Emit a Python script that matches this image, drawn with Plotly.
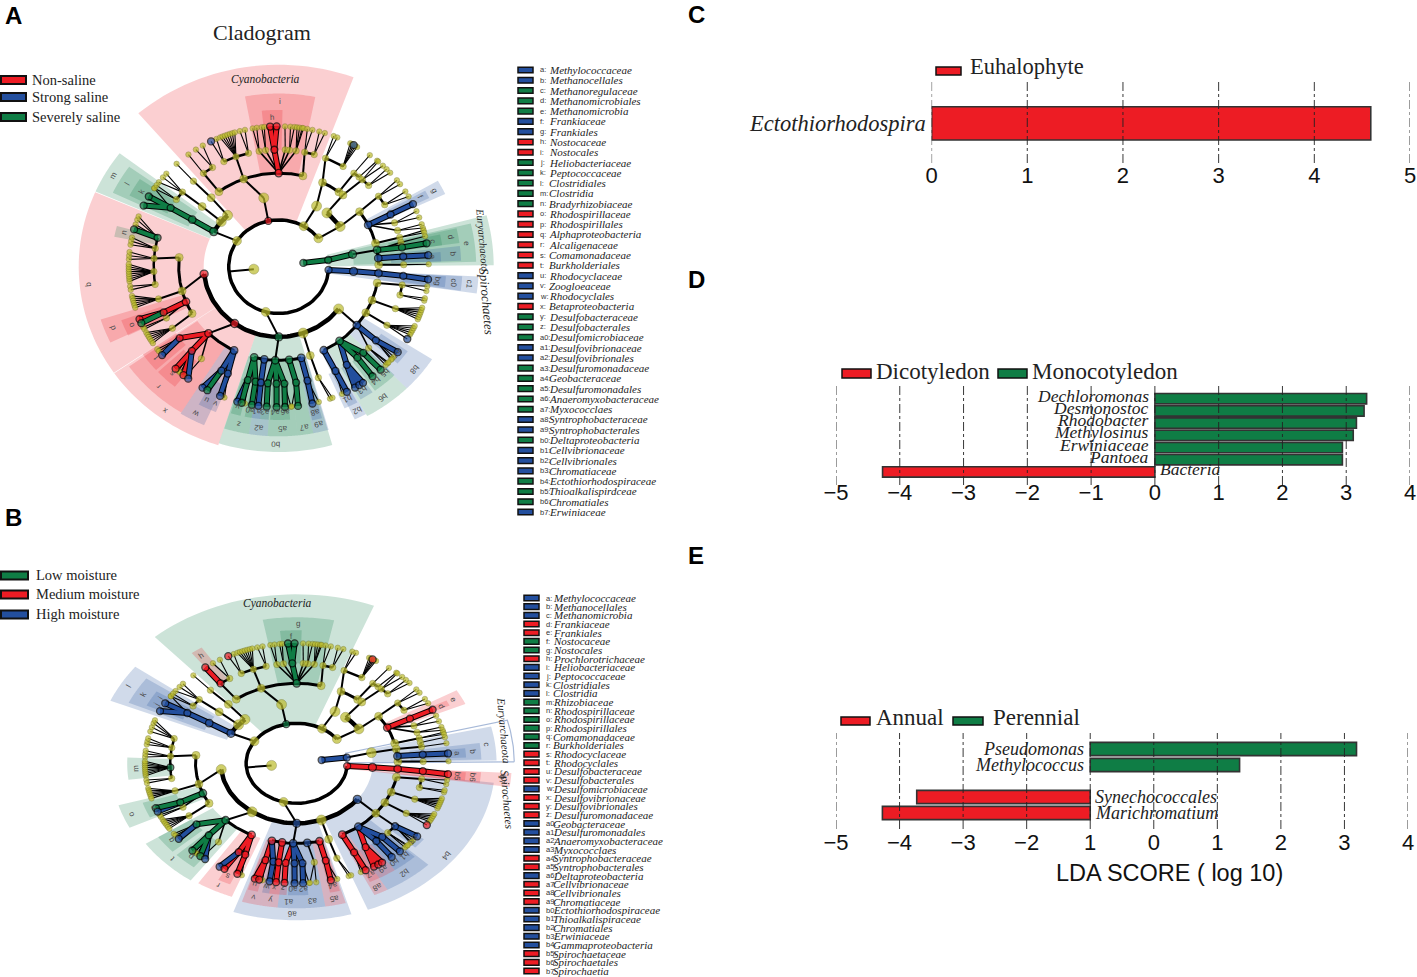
import numpy as np
import plotly.graph_objects as go

W, H = 1417, 977
RED, BLUE, GREEN, YEL = "#ed1c24", "#234f9e", "#0f7d45", "#bcbc2c"
COL = {"R": RED, "B": BLUE, "G": GREEN}
ALPHA = {"R": "rgba(237,28,36,0.21)", "B": "rgba(35,79,158,0.21)", "G": "rgba(15,125,69,0.21)"}
SERIF, SANS = "Liberation Serif", "Liberation Sans"

# ---------- bar panels ----------
C_TAXA = ["Ectothiorhodospira"]
C_SCORES = [4.59]
C_TICKS = [0, 1, 2, 3, 4, 5]
C_TICKTEXT = ["0", "1", "2", "3", "4", "5"]
D_TAXA = ["Dechloromonas", "Desmonostoc", "Rhodobacter", "Methylosinus", "Erwiniaceae", "Pantoea", "Bacteria"]
D_SCORES = [3.32, 3.28, 3.16, 3.11, 2.94, 2.94, -4.27]
D_TICKS = [-5, -4, -3, -2, -1, 0, 1, 2, 3, 4]
D_TICKTEXT = ["\u22125", "\u22124", "\u22123", "\u22122", "\u22121", "0", "1", "2", "3", "4"]
E_TAXA = ["Pseudomonas", "Methylococcus", " ", "Synechococcales", "Marichromatium"]
E_SCORES = [3.19, 1.35, None, -3.73, -4.27]
E_BASE = -1
E_TICKS = [-5, -4, -3, -2, -1, 0, 1, 2, 3, 4]
E_TICKTEXT = ["\u22125", "\u22124", "\u22123", "\u22122", "1", "0", "1", "2", "3", "4"]

# ---------- taxon keys ----------
A_KEYS = list("abcdefghijklmnopqrstuvwxyz") + [f"a{i}" for i in range(10)] + [f"b{i}" for i in range(8)]
A_NAMES = ["Methylococcaceae", "Methanocellales", "Methanoregulaceae", "Methanomicrobiales", "Methanomicrobia",
           "Frankiaceae", "Frankiales", "Nostocaceae", "Nostocales", "Heliobacteriaceae", "Peptococcaceae",
           "Clostridiales", "Clostridia", "Bradyrhizobiaceae", "Rhodospirillaceae", "Rhodospirillales",
           "Alphaproteobacteria", "Alcaligenaceae", "Comamonadaceae", "Burkholderiales", "Rhodocyclaceae",
           "Zoogloeaceae", "Rhodocyclales", "Betaproteobacteria", "Desulfobacteraceae", "Desulfobacterales",
           "Desulfomicrobiaceae", "Desulfovibrionaceae", "Desulfovibrionales", "Desulfuromonadaceae",
           "Geobacteraceae", "Desulfuromonadales", "Anaeromyxobacteraceae", "Myxococclaes",
           "Syntrophobacteraceae", "Syntrophobacterales", "Deltaproteobacteria", "Cellvibrionaceae",
           "Cellvibrionales", "Chromatiaceae", "Ectothiorhodospiraceae", "Thioalkalispirdceae", "Chromatiales",
           "Erwiniaceae"]
A_ROWCOL = "BBGGGBBRRGGGGGRRRRRRBBBRGGGBBGGGGGBBGBBBGGGB"
B_NAMES = ["Methylococcaceae", "Methanocellales", "Methanomicrobia", "Frankiaceae", "Frankiales", "Nostocaceae",
           "Nostocales", "Prochlorotrichaceae", "Heliobacteriaceae", "Peptococcaceae", "Clostridiales", "Clostridia",
           "Rhizobiaceae", "Rhodospirillaceae", "Rhodospirillaceae", "Rhodospirillales", "Comamonadaceae",
           "Burkholderiales", "Rhodocyclaceae", "Rhodocyclales", "Desulfobacteraceae", "Desulfobacterales",
           "Desulfomicrobiaceae", "Desulfovibrionaceae", "Desulfovibrionales", "Desulfuromonadaceae",
           "Geobacteraceae", "Desulfuromonadales", "Anaeromyxobacteraceae", "Myxococclaes",
           "Syntrophobacteraceae", "Syntrophobacterales", "Deltaproteobacteria", "Cellvibrionaceae",
           "Cellvibrionales", "Chromatiaceae", "Ectothiorhodospiraceae", "Thioalkalispiraceae", "Chromatiales",
           "Erwiniaceae", "Gammaproteobacteria", "Spirochaetaceae", "Spirochaetales", "Spirochaetia"]
B_ROWCOL = "BBBRRGGRBBBBGGGGGGRRRRBRRRBBBBRRBRRRBBBBBRRR"

# ---------- cladogram tree: (angle in degrees, tag, children); a bare number is an untagged leaf ----------
CYANO = (102, "cy", [(101.5, None, [
    (126.7, None, [(127, "cy5", [(127, "cy6")]), (122, None, [123.5, 120.4])]),
    (110.5, None, [(116, None, [(116.8, "cyb"), 114.5]),
                   (110, None, [113, 112, 111, 110, 109, 108, 107]),
                   (104, None, [105, 103])]),
    (90, "cy4", [(99, None, [100, 98.4]), (96, None, [96.5, 95.5]), (92, "i5", [(93.3, "h1"), (90.8, "h2")]),
                 (87, None, [87.6]), (85, None, [85.5, 84]), (82, None, [83, 82, 81, 80.5])]),
    (76, None, [(78, None, [79, 77]), (73.5, None, [74.3, 72.1])]),
])])
ACTI = (60, None, [(59.7, None, [
    (64, None, [(68, None, [68.5, 67]), (59, None, [(60, "act"), 61.5, 60.7, 59.3, 58.5])]),
    (53, None, [(53, None, [52.6]), (50, None, [49])]),
])])
OTHER = (37.4, None, [
    (50, None, [(50, None, [(48, None, [48.5, 46]), (44, None, [44, 42])])]),
    (35, None, [
        (36, None, [(37, None, [38, 36]), (32, None, [32.4, 30])]),
        (26.5, "f0", [(26.5, "f1", [(26.5, "f2")]), (22, None, [23.3, 20.5]), (18, None, [17.6, 16])]),
        (14.5, None, [(14.5, None, [15, 14])]),
    ]),
])
SPIRO = (356, "s2", [(356.2, "s3", [(356, "s4", [(355.5, "s5", [(354.8, "s6")])])])])
ALPHA_CLADE = (186, "a3", [
    (174.3, None, [
        (165.7, "n5", [(164.6, "n6"), 162.5, 160.5, 159]),
        (171, None, [171, 169.5, 168]),
        (176, None, [177, 175.5, 174]),
        (182.4, "m5", [186, 185, 184, 183, 182, 181, 180, 179]),
        (188.7, None, [188, 189.5]),
    ]),
    (195, None, [(196, None, [192, 193, 194, 195, 196, 197])]),
    (202, "o4", [(203, "o5", [(201.9, "o6"), (203.7, "o7")]), (206, None, [205.5, 206.5])]),
    (210, None, [(211.7, None, [208, 209, 210, 211, 212, 213])]),
])
BETA_CLADE = (234, "x3", [
    (225.4, "r4", [(217.6, "t5", [216, 217, (219, "t6")]),
                   (226, "r5", [(226.6, "r6"), (230.6, "r7"), (232.9, "r8"), 228, 229]),
                   (231.8, None, [231.5])]),
    (243.5, "w4", [(242.7, "w5", [(239.5, "u6"), (241.6, "v6")]), (246, "w7", [(247, "u7"), 248.8])]),
])
DELTA_CLADE = (270, "d3", [
    (255.8, "z4", [(255.7, "y5", [(254, "y6"), (255.7, "y7"), 257]), (259.3, "a05", [(259.7, "a06")])]),
    (261.7, "a14", [(261.8, "a15", [(262.2, "a16")])]),
    (268, "a34", [(265, "a35", [(265.4, "a36")]), (269, "a37", [(269.2, "a38")]),
                  (272.6, "a39", [(272.4, "a40"), 274.7])]),
    (276, "a74", [(278, "a75", [(277.4, "a76"), 275])]),
    (283, "a94", [(283.3, "a95", [(283, "a96"), 285.5])]),
])
E289_CLADE = (289, None, [(288.4, None, [(288.5, None, [290, 291])])])
GAMMA_CLADE = (323, "g3", [
    (296.8, "b24", [(297, "b25", [(297, "b16"), 295])]),
    (307.5, "b64", [(303, "b35", [(300.6, "b36"), (302.5, "b37"), (304.2, "b38")]),
                    (309, "b65", [(308.7, "b66")]),
                    (312.6, "b45", [(312.8, "b46")])]),
    (321.4, "b84", [(321, "b75", [(322.5, "b76"), 320, 319, 318.5]), (316, None, [316.5, 315.5, 317])]),
    (330.6, None, [(330, None, [(329, "lf"), 331, 332, 333, 334, 335])]),
    (339, None, [(339, None, [338, 339, 340, 341, 342, 343])]),
    (350, None, [(346, None, [346, 347]), (351, None, [350, 352])]),
])
PROTEO = (255, None, [ALPHA_CLADE, BETA_CLADE, DELTA_CLADE, E289_CLADE, GAMMA_CLADE])
FIRM = (146.6, None, [
    (150, "c3", [(149.8, "c4", [(149.8, "c5", [(150, "c6a"), (154.2, "c6b"), 146])])]),
    (140, None, [(140, None, [(140.4, None, [140.5, 143, 138.5]), (145, None, [146, 144.5])])]),
    (133, None, [(132.5, None, [(133, None, [132.9])])]),
])
BACTERIA = (186, None, [SPIRO, PROTEO, FIRM, CYANO, ACTI, OTHER])
EURY = (9.4, "e1", [(8.2, "e2", [(10.2, "e3", [
    (10.3, "e4", [(9.5, "e5", [(9.6, "e6")]), (12, None, [12.5])]),
    (5.2, "e7", [(5, "e8", [(4.7, "e9")])]),
    (1.2, None, [(1, None, [1])]),
])])])
ROOTS = [BACTERIA, EURY]

# biomarker tags per panel
A_TAGS = {
    "R": "cy cy4 i5 h1 h2 a3 o4 o5 o6 x3 r4 t5 r5 r6 r7",
    "B": "cyb act f0 f1 f2 e7 e8 e9 s2 s3 s4 s5 s6 w4 w5 u6 w7 u7 t6 r8 a14 a15 a16 a94 a95 a96 y6 "
         "b24 b25 b16 b35 b36 b37 b38 b84 b75 b76 lf",
    "G": "e1 e2 e3 e4 e5 e6 c3 c4 c5 c6a c6b n5 n6 o7 v6 d3 z4 y5 y7 a05 a06 a34 a35 a36 a37 a38 a39 a40 "
         "a74 a75 a76 b64 b65 b66 b45 b46",
}
B_TAGS = {
    "G": "cy cy4 i5 h1 h2 o4 o5 o6 m5 r4 t5 r5 r6 r7",
    "R": "cyb cy5 cy6 f0 f1 f2 s2 s3 s4 s5 s6 w4 w5 w7 u7 v6 act lf z4 y5 y6 y7 a14 a15 a16 a35 a36 a94 a95 a96 "
         "b24 b25 b16 b35 b36 b37 b38",
    "B": "e1 e2 e7 e8 e9 c3 c4 c5 c6a c6b o7 t6 r8 u6 d3 a05 a06 a34 a37 a38 a39 a40 a74 b64 b65 b66 b45 b46 "
         "g3 b75 b76",
}

# shaded sectors: label, colour, start angle, end angle, inner level, outer level
A_SECTORS = [
    ("", "R", 69.7, 130.6, 2, 8.63), ("i", "R", 78.6, 100.5, 4, 7.4), ("h", "R", 88.7, 95.8, 5, 6.7),
    ("m", "G", 142.7, 156.3, 3, 8), ("l", "G", 144.5, 154.5, 4, 7.35), ("k", "G", 146, 153, 5, 6.7),
    ("b", "R", 156.6, 214.5, 3, 8), ("d", "R", 197.6, 205.7, 4, 7.47), ("o", "R", 200, 206, 5, 6.7),
    ("n", "G", 165, 169, 5, 6.7),
    ("x", "R", 214.7, 252.4, 3, 8), ("r", "R", 215.5, 238, 4, 7.35), ("s", "R", 223, 231, 5.2, 6.6),
    ("t", "R", 214.5, 222, 5, 6.6), ("w", "B", 238, 246.2, 4, 7.4), ("u", "B", 241.5, 245, 5.5, 6.7),
    ("v", "B", 245, 248, 5.5, 6.7),
    ("b0", "G", 252.4, 285.7, 3, 7.92), ("z", "G", 252.5, 260.5, 4, 7.25), ("a2", "B", 260.5, 266.5, 4, 7.25),
    ("a5", "G", 266.5, 276, 4, 7.25), ("a7", "G", 276, 281, 4, 7.25), ("a9", "B", 281, 286, 4, 7.25),
    ("y", "G", 253, 256.5, 5, 6.55), ("a0", "G", 258, 260.5, 5, 6.55), ("a1", "B", 260.5, 263.5, 5, 6.55),
    ("a3", "G", 263.5, 266.5, 5, 6.55), ("a4", "G", 267, 270.5, 5, 6.55), ("a6", "G", 270.5, 274, 5, 6.55),
    ("a8", "B", 281.5, 285, 5, 6.7),
    ("b2", "B", 295, 299, 4, 7.2), ("b1", "B", 293.5, 298.5, 5, 6.6), ("b6", "G", 299, 314.6, 4, 7.3),
    ("b3", "B", 300, 305, 5, 6.55), ("b4", "G", 306, 311, 5, 6.55), ("b5", "G", 311, 315, 5, 6.55),
    ("b8", "B", 314.6, 327.2, 4, 7.3), ("b7", "B", 319, 325, 5, 6.3),
    ("c1", "B", 351.8, 357, 2, 8), ("c0", "B", 352, 356.8, 4, 7.35), ("bg", "B", 352.5, 356.5, 5, 6.7),
    ("", "G", 0.4, 14.8, 2, 8.6), ("e", "G", 1.5, 13.5, 3, 7.9), ("d", "G", 8, 13, 4.5, 7.3), ("c", "G", 8, 12, 5, 6.6),
    ("b", "B", 2, 7, 4.5, 7.3), ("a", "B", 2, 5.5, 5, 6.5),
    ("g", "B", 25, 30, 4, 7.35), ("f", "B", 26, 29, 5, 6.7),
]
B_SECTORS = [
    ("", "G", 68.8, 131.6, 2, 8.45), ("g", "G", 78.3, 100.6, 4, 7.3), ("f", "G", 88.3, 95.7, 5, 6.65),
    ("h", "R", 123, 127, 5, 6.9),
    ("l", "B", 142.9, 157, 3, 8), ("k", "B", 144.5, 155.5, 4, 7.3), ("i", "B", 147, 150, 5, 6.6), ("j", "B", 150, 154, 5, 6.6),
    ("m", "G", 177.5, 187, 5, 6.7),
    ("o", "G", 196.6, 206, 4, 7.35), ("n", "G", 198, 205, 5, 6.4),
    ("t", "G", 214, 234.4, 4, 7.2), ("p", "G", 224, 232, 5, 6.6), ("q", "G", 214, 222, 5, 6.6),
    ("r", "R", 237, 249, 4, 7.15), ("s", "R", 242, 246.5, 5, 6.6),
    ("a6", "B", 251.4, 286, 3, 7.85), ("v", "R", 252.6, 258.6, 4, 7.25), ("y", "R", 258.6, 264, 4, 7.25),
    ("a1", "B", 264, 271, 4, 7.25), ("a3", "B", 271, 279, 4, 7.25), ("a5", "R", 279, 285.5, 4, 7.25),
    ("u", "R", 253, 256.5, 5, 6.6), ("w", "B", 258, 260.5, 5, 6.6), ("x", "R", 260.5, 263.5, 5, 6.6),
    ("z", "R", 263.5, 266.5, 5, 6.6), ("a0", "B", 267, 270.5, 5, 6.6), ("a2", "B", 270.5, 274, 5, 6.6),
    ("a4", "R", 281.5, 285, 5, 6.6),
    ("b4", "B", 291, 352.9, 3, 7.85), ("b2", "B", 299.6, 315.7, 4, 7.27), ("a8", "R", 295, 299.6, 4, 7.27),
    ("a7", "R", 296, 300, 5, 6.6), ("a9", "R", 300, 306, 5, 6.6), ("b0", "B", 306, 310, 5, 6.6), ("b1", "B", 310, 315, 5, 6.6),
    ("b3", "B", 318, 323, 5, 6.3),
    ("b7", "R", 352, 356.7, 2, 8.5), ("b6", "R", 352.3, 356.5, 4, 7.3), ("b5", "R", 352.6, 356.2, 5, 6.7),
    ("", "B", 0.5, 14.5, 2, 8.6), ("c", "B", 1, 13.5, 3, 7.9), ("b", "B", 1.5, 8, 4.5, 7.3), ("a", "B", 2.5, 6.5, 5, 6.7),
    ("e", "R", 24, 30, 4, 7.3), ("d", "R", 25.5, 28, 5, 6.7),
]
OUTLINED_PHYLA = [(0.5, 14.5)]   # panel B: this phylum sector is only an outline

# ---------- helpers (pixel placement of panels) ----------
def fx(px): return px / W
def fy(py): return 1 - py / H

def pol(level, deg):
    t = np.deg2rad(deg)
    return level * np.cos(t), level * np.sin(t)

fig = go.Figure()
annots, shapes = [], []

def text(s, x, y, size, family=SERIF, color="#222", anchor="left", angle=0, italic=False, bold=False):
    if italic: s = f"<i>{s}</i>"
    if bold: s = f"<b>{s}</b>"
    annots.append(dict(text=s, x=fx(x), y=fy(y), xref="paper", yref="paper", xanchor=anchor, yanchor="middle",
                       showarrow=False, textangle=angle, borderpad=0, font=dict(size=size, family=family, color=color)))

def swatch(x0, x1, y0, y1, color, lw=1.5):
    shapes.append(dict(type="rect", xref="paper", yref="paper", x0=fx(x0), x1=fx(x1), y0=fy(y0), y1=fy(y1),
                       fillcolor=color, line=dict(color="#111", width=lw)))

def draw_clade(xa, ya, tags, sectors):
    colour = {t: k for k, v in tags.items() for t in v.split()}
    xn, yn = xa.replace("xaxis", "x"), ya.replace("yaxis", "y")
    for lab, c, a1, a2, r0, r1 in sectors:
        th = np.linspace(a1, a2, 30)
        xo, yo = pol(r1, th); xi, yi = pol(r0, th[::-1])
        if (a1, a2) in OUTLINED_PHYLA:
            fig.add_trace(go.Scatter(x=np.r_[xo, xi, xo[:1]], y=np.r_[yo, yi, yo[:1]], mode="lines",
                                     line=dict(color="rgba(35,79,158,0.4)", width=1.2),
                                     xaxis=xn, yaxis=yn, hoverinfo="skip", showlegend=False))
        else:
            fig.add_trace(go.Scatter(x=np.r_[xo, xi], y=np.r_[yo, yi], fill="toself", fillcolor=ALPHA[c], mode="none",
                                     xaxis=xn, yaxis=yn, hoverinfo="skip", showlegend=False))
        if lab:
            lx, ly = pol(r1 - 0.33, (a1 + a2) / 2)
            annots.append(dict(text=lab, x=lx, y=ly, xref=xn, yref=yn, showarrow=False,
                               textangle=90 - (a1 + a2) / 2,
                               font=dict(size=8, family=SANS, color="#4a4a4a")))
    lines = {}   # width -> xs, ys
    bands = {k: ([], []) for k in COL}
    nodes = []

    def add(w, xs, ys):
        a, b = lines.setdefault(w, ([], []))
        a.extend(list(xs) + [None]); b.extend(list(ys) + [None])

    def norm(n):
        if isinstance(n, (int, float)): return (n, None, [])
        if len(n) == 2: return (n[0], n[1], [])
        return n

    def walk(node, lvl):
        ang, tag, kids = norm(node)
        c = colour.get(tag)
        nodes.append((lvl, ang, c))
        kids = [norm(k) for k in kids]
        if not kids: return
        ch = lvl + 1
        angs = [k[0] for k in kids]
        x0, y0 = pol(lvl, ang)
        if ch <= 4 or (ch == 5 and not c):
            if len(kids) > 1:
                th = np.linspace(min(angs), max(angs), 60)
                ax, ay = pol(ch, th)
                add({2: 3.5, 3: 4.5, 4: 3.0, 5: 2.5}[ch], ax, ay)
            near = min(angs, key=lambda v: abs(v - ang))
            if abs(near - ang) > 15: near = ang
            x1, y1 = pol(ch, near)
            if len(kids) == 1 and c and colour.get(kids[0][1]):
                kc = colour[kids[0][1]]
                bands[kc][0].extend([x0, x1, None]); bands[kc][1].extend([y0, y1, None])
            else:
                add(2.0, [x0, x1], [y0, y1])
        else:
            for k in kids:
                x1, y1 = pol(ch, k[0])
                kc = colour.get(k[1])
                if kc and c:
                    bands[kc][0].extend([x0, x1, None]); bands[kc][1].extend([y0, y1, None])
                else:
                    add(1.6 if ch == 5 else 1.1, [x0, x1], [y0, y1])
        for k in kids:
            walk(k, ch)

    for r in ROOTS:
        walk(r, 1)
    for w, (a, b) in lines.items():
        fig.add_trace(go.Scatter(x=a, y=b, mode="lines", line=dict(color="#000", width=w), xaxis=xn, yaxis=yn,
                                 hoverinfo="skip", showlegend=False))
    for k, (a, b) in bands.items():
        if a:
            fig.add_trace(go.Scatter(x=a, y=b, mode="lines", line=dict(color="#000", width=6), xaxis=xn, yaxis=yn,
                                     hoverinfo="skip", showlegend=False))
            fig.add_trace(go.Scatter(x=a, y=b, mode="lines", line=dict(color=COL[k], width=4), xaxis=xn, yaxis=yn,
                                     hoverinfo="skip", showlegend=False))
    ysz = {1: 10, 2: 9, 3: 10, 4: 8, 5: 6.5, 6: 5.5}
    csz = {1: 7, 2: 7, 3: 8, 4: 7.5, 5: 7, 6: 7}
    nodes.sort(key=lambda n: n[2] is not None)
    px_, py_ = pol(np.array([n[0] for n in nodes]), np.array([n[1] for n in nodes]))
    fig.add_trace(go.Scatter(
        x=px_, y=py_, mode="markers", xaxis=xn, yaxis=yn, hoverinfo="skip", showlegend=False,
        marker=dict(size=[(csz if n[2] else ysz)[n[0]] for n in nodes],
                    color=[COL[n[2]] if n[2] else YEL for n in nodes],
                    line=dict(color=["#000" if n[2] else "#66661a" for n in nodes],
                              width=[1.3 if n[2] else 0.5 for n in nodes]))))

def clade_axes(i, cx, cy, ux, uy):
    xr, yr = 11, 10
    fig.layout[f"xaxis{i}"] = dict(domain=[fx(cx - xr * ux), fx(cx + xr * ux)], range=[-xr, xr], visible=False, anchor=f"y{i}")
    fig.layout[f"yaxis{i}"] = dict(domain=[fy(cy + yr * uy), fy(cy - yr * uy)], range=[-yr, yr], visible=False, anchor=f"x{i}")

clade_axes("", 278.7, 266.7, 25, 23.4)
clade_axes(2, 296.7, 763.3, 25.3, 20)
draw_clade("xaxis", "yaxis", A_TAGS, A_SECTORS)
draw_clade("xaxis2", "yaxis2", B_TAGS, B_SECTORS)

# taxon key lists
def key_list(names, rowcol, sx0, sx1, kx, nx, y0, y1, size):
    step = (y1 - y0) / (len(names) - 1)
    for i, (k, nm, c) in enumerate(zip(A_KEYS, names, rowcol)):
        y = y0 + i * step
        swatch(sx0, sx1, y - 2.8, y + 2.8, COL[c], 1.5)
        text(k + ":", kx, y, 7.5, family=SANS, color="#333")
        text(nm, nx, y, size, italic=True, color="#222")

key_list(A_NAMES, A_ROWCOL, 518, 533, 539, 548, 70, 512, 11)
key_list(B_NAMES, B_ROWCOL, 524, 539, 545, 552, 598, 971, 11)

# group legends of the cladograms
for lab, y, c in zip(["Non-saline", "Strong saline", "Severely saline"], [80, 97, 117], "RBG"):
    swatch(1, 26, y - 4, y + 4, COL[c], 2)
    text(lab, 31, y, 14.5)
for lab, y, c in zip(["Low moisture", "Medium moisture", "High moisture"], [575, 594, 614], "GRB"):
    swatch(1, 28, y - 3.5, y + 4.5, COL[c], 2)
    text(lab, 35, y, 14.5)

text("Cladogram", 262, 33, 22, anchor="center")
text("Cyanobacteria", 265, 79, 11.5, anchor="center", italic=True)
text("Euryarchaeota", 483, 240, 10.5, anchor="center", angle=85, italic=True)
text("Spirochaetes", 487, 301, 13, anchor="center", angle=85, italic=True)
text("Cyanobacteria", 277, 603, 11.5, anchor="center", italic=True)
text("Euryarchaeota", 504, 730, 11, anchor="center", angle=85, italic=True)
text("Spirochaetes", 507, 800, 11.5, anchor="center", angle=85, italic=True)

for lab, x, y in zip("ABCDE", [13, 13, 696, 696, 696], [15, 517, 14, 279, 555]):
    text(lab, x, y, 24, family=SANS, color="#000", anchor="center", bold=True)

# ---------- bar panels ----------
def bar_panel(i, taxa, scores, base, ticks, ticktext, x0, x1, y0, y1, xr, yr, bwidth, standoff):
    vals = [None if s is None else s - base for s in scores]
    cols = [GREEN if (s is not None and s > 0) else RED for s in scores]
    if i == 3: cols = [RED]
    fig.add_trace(go.Bar(y=taxa, x=vals, base=base, orientation="h", width=bwidth,
                         marker=dict(color=cols, line=dict(color="#333", width=1.6)),
                         xaxis=f"x{i}", yaxis=f"y{i}", hoverinfo="skip", showlegend=False))
    fig.layout[f"xaxis{i}"] = dict(domain=[fx(x0), fx(x1)], range=xr, tickmode="array", tickvals=ticks, ticktext=ticktext,
                                   showgrid=False, zeroline=False, showline=False, ticks="", anchor=f"y{i}",
                                   ticklabelstandoff=standoff, tickfont=dict(size=22, family=SANS, color="#111"))
    fig.layout[f"yaxis{i}"] = dict(domain=[fy(y1), fy(y0)], range=yr, type="category", categoryorder="array",
                                   categoryarray=taxa, showticklabels=False, showgrid=False, zeroline=False,
                                   showline=False, ticks="", anchor=f"x{i}")
    for t in ticks:
        shapes.append(dict(type="line", xref=f"x{i}", yref=f"y{i} domain", x0=t, x1=t, y0=0, y1=1, layer="above",
                           line=dict(color="#222", width=0.9, dash="dashdot")))

bar_panel(3, C_TAXA, C_SCORES, 0, C_TICKS, C_TICKTEXT, 931.6, 1410, 81.7, 163, [0, 5], [1.07, -1.124], 0.9, -3)
bar_panel(4, D_TAXA, D_SCORES, 0, D_TICKS, D_TICKTEXT, 836, 1410, 386, 485, [-5, 4], [7.07, -1.04], 0.85, -8)
bar_panel(5, E_TAXA, E_SCORES, E_BASE, E_TICKS, E_TICKTEXT, 836, 1408, 733, 829, [-5, 4], [5, -1], 0.83, -2)

def bar_labels(i, taxa, scores, base, size, yshift):
    for nm, s in zip(taxa, scores):
        if s is None: continue
        pos = s > base
        annots.append(dict(text=f"<i>{nm}</i>", x=base, y=nm, xref=f"x{i}", yref=f"y{i}", showarrow=False,
                           xanchor="right" if pos else "left", xshift=-4 if pos else 3, yshift=yshift,
                           font=dict(size=size, family=SERIF, color="#222")))

bar_labels(3, C_TAXA, C_SCORES, 0, 22.5, 0)
bar_labels(4, D_TAXA, D_SCORES, 0, 17.5, 3)
bar_labels(5, E_TAXA, E_SCORES, E_BASE, 18, 0)

swatch(936, 961, 67, 75, RED)
text("Euhalophyte", 969, 67, 22.5)
swatch(842, 871, 369, 378, RED)
text("Dicotyledon", 875, 372, 23)
swatch(998, 1027, 369, 378, GREEN)
text("Monocotyledon", 1031, 372, 23)
swatch(841, 870, 717, 725, RED)
text("Annual", 875, 717, 23)
swatch(953, 983, 717, 725, GREEN)
text("Perennial", 992, 717, 23)
text("LDA SCORE ( log 10)", 1169, 873, 23.5, family=SANS, color="#111", anchor="center")

fig.update_layout(width=W, height=H, margin=dict(l=0, r=0, t=0, b=0, autoexpand=False), paper_bgcolor="white",
                  plot_bgcolor="rgba(0,0,0,0)", showlegend=False, annotations=annots, shapes=shapes, barmode="overlay")
fig.write_html("out.html", config={"displayModeBar": False}, post_script="document.body.style.margin='0';")
